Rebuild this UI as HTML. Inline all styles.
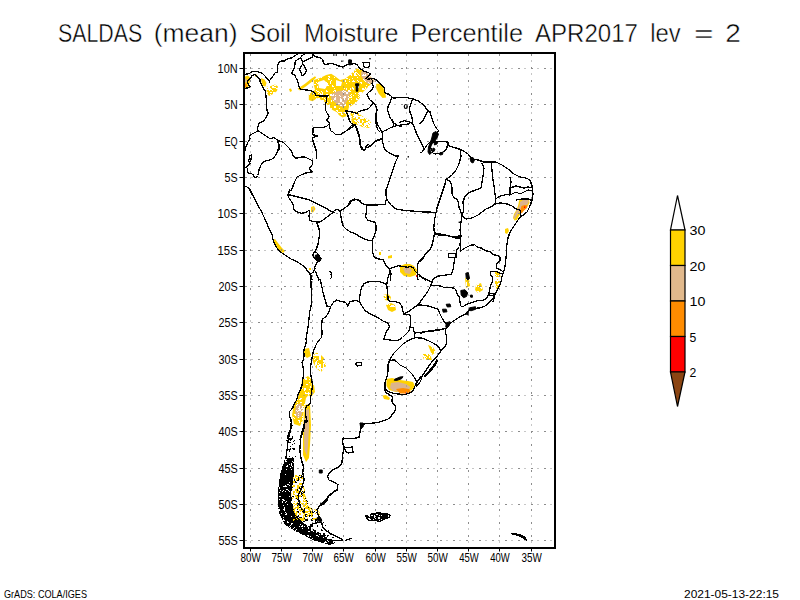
<!DOCTYPE html>
<html><head><meta charset="utf-8"><style>
html,body{margin:0;padding:0;background:#fff;width:800px;height:600px;overflow:hidden}
svg{display:block}
text{font-family:"Liberation Sans",sans-serif;fill:#000}
</style></head><body>
<svg width="800" height="600" viewBox="0 0 800 600">
<rect width="800" height="600" fill="#fff"/>
<text x="58.00" y="41.9" font-size="26" textLength="84.15" lengthAdjust="spacingAndGlyphs" stroke="#fff" stroke-width="0.45">SALDAS</text>
<text x="153.65" y="41.9" font-size="26" textLength="84.00" lengthAdjust="spacingAndGlyphs" stroke="#fff" stroke-width="0.45">(mean)</text>
<text x="249.60" y="41.9" font-size="26" textLength="41.50" lengthAdjust="spacingAndGlyphs" stroke="#fff" stroke-width="0.45">Soil</text>
<text x="304.00" y="41.9" font-size="26" textLength="94.60" lengthAdjust="spacingAndGlyphs" stroke="#fff" stroke-width="0.45">Moisture</text>
<text x="410.40" y="41.9" font-size="26" textLength="112.60" lengthAdjust="spacingAndGlyphs" stroke="#fff" stroke-width="0.45">Percentile</text>
<text x="535.00" y="41.9" font-size="26" textLength="103.00" lengthAdjust="spacingAndGlyphs" stroke="#fff" stroke-width="0.45">APR2017</text>
<text x="650.20" y="41.9" font-size="26" textLength="30.50" lengthAdjust="spacingAndGlyphs" stroke="#fff" stroke-width="0.45">lev</text>
<text x="693.90" y="41.9" font-size="26" textLength="19.60" lengthAdjust="spacingAndGlyphs" stroke="#fff" stroke-width="0.45">=</text>
<text x="725.30" y="41.9" font-size="26" textLength="15.60" lengthAdjust="spacingAndGlyphs" stroke="#fff" stroke-width="0.45">2</text>
<g>
<polygon points="313.8,80.0 320.0,78.1 326.2,75.0 331.2,73.8 335.0,76.2 340.0,80.0 345.0,78.8 350.0,75.0 353.8,71.2 356.2,68.8 361.2,68.8 366.2,72.5 370.0,76.2 373.8,80.0 371.2,83.8 367.5,87.5 362.5,92.5 360.0,97.5 356.2,102.5 352.5,105.0 348.8,107.5 347.5,113.8 342.5,115.0 337.5,112.5 332.5,110.0 327.5,105.0 323.8,101.2 318.8,98.8 315.0,97.5 310.0,98.8 308.8,95.0 311.2,92.5 315.0,90.0 313.8,85.0" fill="#ffd200"/>
<polygon points="331.2,93.8 337.5,91.2 345.0,90.0 350.0,92.5 348.8,97.5 346.2,102.5 343.8,107.5 340.0,106.2 335.0,102.5 331.2,98.8" fill="#dcb48c"/>
<polygon points="361.2,71.2 365.0,71.2 368.8,75.0 375.0,81.2 371.2,83.8 367.5,83.8 363.8,80.0 361.2,76.2" fill="#dcb48c"/>
<polygon points="376.2,83.8 380.0,83.8 383.1,87.5 385.0,92.5 386.2,97.5 382.5,98.1 378.8,93.8 376.2,88.8" fill="#ffd200"/>
<polygon points="297.5,88.8 305.0,83.8 311.2,78.8 315.0,76.2 316.2,77.5 312.5,81.2 306.2,86.2 300.0,90.6" fill="#ffd200"/>
<polygon points="336.2,110.0 342.5,107.5 346.9,111.2 346.2,116.2 342.5,117.5 338.8,115.0" fill="#ffd200"/>
<polygon points="351.2,118.8 357.5,118.8 365.0,120.0 366.2,123.8 361.2,125.0 355.0,124.4 351.9,122.5" fill="#ffd200"/>
<polygon points="308.8,93.8 315.0,95.0 316.2,98.8 312.5,101.2 308.8,100.0" fill="#ffd200"/>
<polygon points="318.0,82.0 324.0,80.0 328.0,84.0 325.0,89.0 319.0,88.0" fill="#ffffff"/>
<polygon points="336.0,80.0 342.0,82.0 341.0,86.0 336.0,86.0" fill="#ffffff"/>
<polygon points="519.0,200.5 522.0,198.5 526.0,198.0 529.0,199.0 529.5,203.0 527.0,207.0 524.0,210.0 521.0,213.0 519.0,216.0 517.0,220.0 514.5,220.5 513.0,218.0 514.0,214.0 517.0,209.0 518.5,204.0" fill="#ffd200"/>
<polygon points="520.0,202.0 523.0,200.0 527.0,199.0 529.0,201.0 528.0,204.0 525.0,206.0 522.0,209.0 520.0,211.0 518.0,214.0 516.0,217.0 514.5,219.5 513.5,217.0 515.5,213.0 517.5,209.0 519.5,205.0" fill="#dcb48c"/>
<polygon points="521.5,206.0 524.5,205.0 527.5,205.5 527.0,208.0 524.0,210.5 522.0,213.0 520.0,213.5 520.5,210.0" fill="#ff8c00"/>
<polygon points="524.0,206.5 525.5,206.5 525.0,208.0 524.0,208.0" fill="#ff0000"/>
<polygon points="505.0,229.0 508.0,228.0 509.0,231.0 507.0,234.0 505.0,233.0" fill="#ffd200"/>
<polygon points="302.0,380.0 308.0,376.0 312.0,380.0 311.0,392.0 306.0,398.0 304.0,408.0 303.0,420.0 300.0,426.0 294.0,424.0 292.0,415.0 294.0,404.0 298.0,396.0 301.0,388.0" fill="#ffd200"/>
<polygon points="296.0,405.0 301.0,403.0 303.0,410.0 301.0,417.0 297.0,418.0 295.0,412.0" fill="#dcb48c"/>
<polygon points="304.0,349.0 309.0,348.0 311.0,356.0 307.0,358.0 304.0,355.0" fill="#ffd200"/>
<polygon points="313.0,355.0 318.0,352.0 324.0,358.0 326.0,366.0 321.0,372.0 316.0,368.0 313.0,362.0" fill="#ffd200"/>
<polygon points="305.0,405.0 310.0,404.0 311.0,425.0 310.0,445.0 309.0,458.0 306.0,462.0 303.0,455.0 303.0,430.0 304.0,415.0" fill="#ffd200"/>
<polygon points="305.5,410.0 309.0,409.0 309.0,428.0 308.0,445.0 307.0,456.0 304.5,450.0 304.0,435.0 304.5,420.0" fill="#dcb48c"/>
<polygon points="308.0,386.0 314.0,385.0 315.0,392.0 311.0,397.0 308.0,395.0" fill="#ffd200"/>
<polygon points="292.0,509.0 300.0,506.0 306.0,508.0 312.0,509.0 318.0,510.0 320.0,515.0 316.0,520.0 308.0,519.0 300.0,522.0 293.0,521.0" fill="#ffd200"/>
<polygon points="305.0,511.0 311.0,511.0 314.0,515.0 309.0,517.0 305.0,515.0" fill="#dcb48c"/>
<polygon points="299.0,490.0 305.0,489.0 305.0,498.0 300.0,499.0" fill="#ffd200"/>
<polygon points="244.0,77.0 248.0,75.5 250.5,78.0 249.5,83.0 248.0,88.0 244.0,88.5" fill="#ffd200"/>
<polygon points="244.0,79.0 246.5,78.5 247.0,82.0 244.0,83.0" fill="#dcb48c"/>
<polygon points="244.0,84.0 246.5,83.5 247.0,86.5 244.0,87.5" fill="#ff8c00"/>
<polygon points="255.0,75.0 257.0,74.5 257.5,76.5 255.5,77.0" fill="#ffd200"/>
<polygon points="261.0,78.0 264.5,79.5 266.5,83.0 265.5,86.5 263.0,86.0 261.5,82.0" fill="#ffd200"/>
<polygon points="266.0,87.0 271.0,86.0 275.0,84.5 278.0,86.5 277.0,91.0 273.0,94.0 269.0,96.0 267.0,93.0" fill="#ffd200"/>
<polygon points="350.0,111.0 357.0,112.0 362.0,116.0 369.0,120.0 372.0,124.0 369.0,128.0 362.0,127.0 356.0,123.0 351.0,117.0" fill="#ffd200"/>
<polygon points="289.0,89.0 291.0,88.5 292.0,91.0 290.0,92.0" fill="#ffd200"/>
<polygon points="400.0,266.0 405.0,264.0 410.0,264.0 414.0,266.0 417.0,270.0 416.0,275.0 410.0,277.0 404.0,276.0 400.0,272.0" fill="#ffd200"/>
<polygon points="403.0,268.0 409.0,267.0 412.0,270.0 410.0,274.0 405.0,273.0" fill="#dcb48c"/>
<polygon points="416.0,275.0 418.0,275.0 418.0,277.0 416.0,277.0" fill="#ff0000"/>
<polygon points="383.0,295.0 388.0,294.0 391.0,297.0 390.0,301.0 385.0,300.0" fill="#ffd200"/>
<polygon points="386.0,305.0 391.0,303.0 395.0,305.0 396.0,310.0 392.0,312.0 388.0,310.0" fill="#ffd200"/>
<polygon points="465.0,278.0 469.0,279.0 470.0,286.0 466.0,288.0" fill="#ffd200"/>
<polygon points="476.0,285.0 481.0,283.0 483.0,290.0 478.0,293.0 475.0,290.0" fill="#ffd200"/>
<polygon points="495.0,272.0 499.0,271.0 501.0,278.0 500.0,287.0 497.0,290.0 495.0,285.0" fill="#ffd200"/>
<polygon points="428.0,345.0 433.0,347.0 436.0,352.0 432.0,355.0" fill="#ffd200"/>
<polygon points="422.0,354.0 430.0,354.0 432.0,360.0 424.0,360.0" fill="#ffd200"/>
<polygon points="386.5,379.0 392.0,378.0 400.0,380.0 408.0,381.0 413.0,382.0 415.0,386.0 412.0,390.0 404.0,392.0 396.0,392.0 389.0,390.0 386.5,386.0" fill="#ffd200"/>
<polygon points="391.0,383.0 398.0,382.0 406.0,384.0 410.5,387.0 408.0,391.0 400.0,392.0 393.0,391.0 390.0,388.0" fill="#dcb48c"/>
<polygon points="396.0,389.0 403.0,388.0 409.0,389.0 411.0,392.0 406.0,393.5 400.0,393.5" fill="#ff8c00"/>
<polygon points="405.5,392.5 407.5,392.5 407.5,394.0 405.5,394.0" fill="#ff0000"/>
<polygon points="311.0,207.0 314.0,206.0 315.5,209.0 313.0,212.5 311.0,212.0" fill="#ffd200"/>
<polygon points="312.5,207.5 314.0,207.5 314.0,210.0 312.5,210.5" fill="#dcb48c"/>
<polygon points="273.0,240.0 275.0,239.0 278.0,243.0 282.0,248.0 285.0,251.0 283.0,253.0 279.0,250.0 275.0,246.0" fill="#ffd200"/>
<polygon points="379.0,252.0 381.0,252.0 381.0,255.0 379.0,255.0" fill="#ffd200"/>
<polygon points="388.0,256.0 392.0,255.0 392.0,258.0 388.0,258.5" fill="#ffd200"/>
<polygon points="309.0,268.0 311.0,268.0 311.0,270.0 309.0,270.0" fill="#ffd200"/>
<polygon points="382.5,395.5 386.0,395.0 390.0,398.0 389.0,400.0 384.0,399.0" fill="#ffd200"/>
<polygon points="293.8,475.0 302.5,475.0 305.0,495.0 310.0,507.5 320.0,512.5 320.0,517.5 307.5,520.0 297.5,517.5 292.5,505.0 291.2,490.0" fill="#ffd200"/>
<path d="M359 69h1v1h-1zM355 70h1v1h-1zM353 71h1v1h-1zM353 72h1v1h-1zM355 72h2v1h-2zM354 73h2v1h-2zM357 73h1v1h-1zM350 74h2v1h-2zM354 74h2v1h-2zM358 74h1v1h-1zM363 74h1v1h-1zM365 74h1v1h-1zM351 75h1v1h-1zM354 75h3v1h-3zM359 75h1v1h-1zM362 75h4v1h-4zM328 76h2v1h-2zM368 76h2v1h-2zM321 77h1v1h-1zM329 77h1v1h-1zM334 77h1v1h-1zM357 77h1v1h-1zM367 77h1v1h-1zM328 78h1v1h-1zM346 78h2v1h-2zM352 78h1v1h-1zM318 79h1v1h-1zM328 79h2v1h-2zM349 79h1v1h-1zM363 79h1v1h-1zM367 79h1v1h-1zM331 80h1v1h-1zM345 80h1v1h-1zM353 80h1v1h-1zM357 80h1v1h-1zM364 80h1v1h-1zM372 80h1v1h-1zM330 81h1v1h-1zM345 81h1v1h-1zM349 81h1v1h-1zM352 81h3v1h-3zM358 81h1v1h-1zM365 81h1v1h-1zM316 82h1v1h-1zM318 82h2v1h-2zM322 82h2v1h-2zM326 82h1v1h-1zM330 82h1v1h-1zM360 82h2v1h-2zM368 82h1v1h-1zM317 83h3v1h-3zM326 83h2v1h-2zM330 83h1v1h-1zM346 83h1v1h-1zM356 83h1v1h-1zM361 83h1v1h-1zM369 83h1v1h-1zM314 84h2v1h-2zM327 84h1v1h-1zM326 85h3v1h-3zM332 85h1v1h-1zM366 85h1v1h-1zM317 86h1v1h-1zM324 86h2v1h-2zM332 86h2v1h-2zM357 86h2v1h-2zM368 86h1v1h-1zM317 87h1v1h-1zM325 87h1v1h-1zM352 87h1v1h-1zM358 87h1v1h-1zM365 87h1v1h-1zM334 88h1v1h-1zM344 88h1v1h-1zM346 88h1v1h-1zM350 88h1v1h-1zM352 88h2v1h-2zM356 88h2v1h-2zM362 88h2v1h-2zM365 88h1v1h-1zM346 89h1v1h-1zM350 89h1v1h-1zM353 89h1v1h-1zM357 89h1v1h-1zM362 89h3v1h-3zM316 90h1v1h-1zM326 90h1v1h-1zM334 90h2v1h-2zM343 90h1v1h-1zM348 90h2v1h-2zM317 91h2v1h-2zM321 91h1v1h-1zM326 91h2v1h-2zM333 91h1v1h-1zM335 91h1v1h-1zM342 91h1v1h-1zM344 91h2v1h-2zM348 91h3v1h-3zM319 92h1v1h-1zM322 92h1v1h-1zM343 92h1v1h-1zM346 92h2v1h-2zM359 92h3v1h-3zM313 93h1v1h-1zM318 93h1v1h-1zM320 93h1v1h-1zM322 93h1v1h-1zM346 93h2v1h-2zM355 93h1v1h-1zM358 93h4v1h-4zM309 94h1v1h-1zM320 94h3v1h-3zM326 94h2v1h-2zM330 94h2v1h-2zM333 94h1v1h-1zM351 94h1v1h-1zM359 94h3v1h-3zM322 95h2v1h-2zM326 95h2v1h-2zM330 95h4v1h-4zM335 95h1v1h-1zM339 95h1v1h-1zM350 95h1v1h-1zM353 95h1v1h-1zM358 95h1v1h-1zM360 95h1v1h-1zM315 96h1v1h-1zM323 96h1v1h-1zM328 96h1v1h-1zM340 96h1v1h-1zM344 96h2v1h-2zM348 96h1v1h-1zM351 96h1v1h-1zM359 96h2v1h-2zM322 97h1v1h-1zM328 97h1v1h-1zM335 97h1v1h-1zM343 97h3v1h-3zM349 97h3v1h-3zM358 97h1v1h-1zM318 98h2v1h-2zM324 98h1v1h-1zM334 98h2v1h-2zM340 98h1v1h-1zM344 98h1v1h-1zM348 98h1v1h-1zM356 98h1v1h-1zM325 99h1v1h-1zM334 99h2v1h-2zM340 99h2v1h-2zM344 99h1v1h-1zM348 99h1v1h-1zM351 99h1v1h-1zM356 99h2v1h-2zM322 100h2v1h-2zM326 100h1v1h-1zM331 100h1v1h-1zM333 100h1v1h-1zM340 100h2v1h-2zM326 101h1v1h-1zM331 101h1v1h-1zM340 101h2v1h-2zM349 101h1v1h-1zM327 102h1v1h-1zM342 102h2v1h-2zM355 102h1v1h-1zM338 103h2v1h-2zM343 103h1v1h-1zM329 104h1v1h-1zM336 104h1v1h-1zM345 104h1v1h-1zM351 104h1v1h-1zM328 105h2v1h-2zM340 105h2v1h-2zM344 105h2v1h-2zM349 105h1v1h-1zM329 106h1v1h-1zM334 106h2v1h-2zM349 106h1v1h-1zM334 107h2v1h-2zM331 108h1v1h-1zM339 108h1v1h-1zM336 110h2v1h-2zM337 111h1v1h-1zM338 112h4v1h-4zM343 112h3v1h-3zM341 113h1v1h-1zM345 113h1v1h-1zM341 114h2v1h-2zM352 111h2v1h-2zM350 112h6v1h-6zM352 113h1v1h-1zM354 113h1v1h-1zM356 113h1v1h-1zM354 114h3v1h-3zM359 114h1v1h-1zM353 115h5v1h-5zM351 116h1v1h-1zM354 116h8v1h-8zM353 117h2v1h-2zM356 117h2v1h-2zM360 117h5v1h-5zM356 118h2v1h-2zM360 118h4v1h-4zM365 118h1v1h-1zM358 119h2v1h-2zM366 119h2v1h-2zM354 120h2v1h-2zM357 120h3v1h-3zM362 120h1v1h-1zM366 120h2v1h-2zM355 121h2v1h-2zM358 121h2v1h-2zM362 121h2v1h-2zM368 121h2v1h-2zM357 122h1v1h-1zM359 122h1v1h-1zM362 122h1v1h-1zM366 122h4v1h-4zM357 123h5v1h-5zM364 123h4v1h-4zM369 123h3v1h-3zM358 124h4v1h-4zM364 124h5v1h-5zM370 124h2v1h-2zM362 125h1v1h-1zM364 125h2v1h-2zM368 125h3v1h-3zM363 126h2v1h-2zM366 126h1v1h-1zM368 126h2v1h-2zM365 127h1v1h-1zM274 85h2v1h-2zM268 86h2v1h-2zM272 86h2v1h-2zM266 87h4v1h-4zM272 87h4v1h-4zM266 88h1v1h-1zM268 88h3v1h-3zM276 88h2v1h-2zM266 89h6v1h-6zM269 90h1v1h-1zM272 90h1v1h-1zM267 92h1v1h-1zM270 92h2v1h-2zM273 92h2v1h-2zM273 93h1v1h-1zM270 94h1v1h-1zM304 378h3v1h-3zM305 379h2v1h-2zM309 379h1v1h-1zM309 382h1v1h-1zM306 384h2v1h-2zM310 386h1v1h-1zM310 387h1v1h-1zM302 388h1v1h-1zM304 388h2v1h-2zM304 389h2v1h-2zM309 389h1v1h-1zM304 390h1v1h-1zM305 392h1v1h-1zM308 392h1v1h-1zM305 393h5v1h-5zM308 394h1v1h-1zM297 397h1v1h-1zM297 398h1v1h-1zM300 398h2v1h-2zM297 399h1v1h-1zM299 399h2v1h-2zM297 402h1v1h-1zM300 402h2v1h-2zM297 404h1v1h-1zM304 404h1v1h-1zM296 405h1v1h-1zM299 406h1v1h-1zM302 406h2v1h-2zM293 407h1v1h-1zM299 407h1v1h-1zM302 407h1v1h-1zM298 408h2v1h-2zM301 408h3v1h-3zM299 409h2v1h-2zM303 409h1v1h-1zM296 410h1v1h-1zM298 410h3v1h-3zM302 410h2v1h-2zM297 411h1v1h-1zM301 411h3v1h-3zM298 413h1v1h-1zM294 414h2v1h-2zM295 415h1v1h-1zM298 415h1v1h-1zM302 416h1v1h-1zM293 417h1v1h-1zM298 417h1v1h-1zM294 418h1v1h-1zM302 418h1v1h-1zM302 419h1v1h-1zM298 420h2v1h-2zM299 421h1v1h-1zM299 422h1v1h-1zM301 422h1v1h-1zM317 352h2v1h-2zM318 353h2v1h-2zM315 354h6v1h-6zM313 355h8v1h-8zM319 356h2v1h-2zM313 357h1v1h-1zM319 357h2v1h-2zM315 358h1v1h-1zM319 358h2v1h-2zM314 359h1v1h-1zM319 359h2v1h-2zM317 360h1v1h-1zM323 360h2v1h-2zM316 361h1v1h-1zM323 361h2v1h-2zM315 362h2v1h-2zM324 362h1v1h-1zM315 363h2v1h-2zM318 363h1v1h-1zM323 363h2v1h-2zM315 364h2v1h-2zM319 364h2v1h-2zM323 364h1v1h-1zM325 364h1v1h-1zM315 365h1v1h-1zM317 365h4v1h-4zM323 365h1v1h-1zM317 366h2v1h-2zM320 366h1v1h-1zM323 366h1v1h-1zM317 367h4v1h-4zM323 367h2v1h-2zM317 368h7v1h-7zM319 369h2v1h-2zM322 369h1v1h-1zM320 370h1v1h-1zM320 371h1v1h-1zM387 304h1v1h-1zM389 304h1v1h-1zM391 305h3v1h-3zM390 306h5v1h-5zM383 295h3v1h-3zM385 296h1v1h-1zM387 296h1v1h-1zM387 297h2v1h-2zM384 298h2v1h-2zM389 298h1v1h-1zM389 299h1v1h-1zM388 300h1v1h-1zM466 279h1v1h-1zM466 282h1v1h-1zM469 282h1v1h-1zM466 283h1v1h-1zM466 284h1v1h-1zM466 285h1v1h-1zM477 284h2v1h-2zM476 285h1v1h-1zM476 286h1v1h-1zM478 286h1v1h-1zM480 287h2v1h-2zM481 288h1v1h-1zM477 291h2v1h-2zM478 292h1v1h-1zM497 271h2v1h-2zM498 272h1v1h-1zM495 274h1v1h-1zM496 275h1v1h-1zM498 275h1v1h-1zM495 276h1v1h-1zM495 277h6v1h-6zM495 278h6v1h-6zM495 279h2v1h-2zM498 279h3v1h-3zM495 280h6v1h-6zM497 281h1v1h-1zM498 283h2v1h-2zM495 284h1v1h-1zM497 284h3v1h-3zM495 285h1v1h-1zM496 286h1v1h-1zM499 287h1v1h-1zM431 346h1v1h-1zM432 347h1v1h-1zM432 348h1v1h-1zM434 351h2v1h-2zM434 352h1v1h-1zM431 353h1v1h-1zM422 354h1v1h-1zM426 354h2v1h-2zM429 354h1v1h-1zM422 355h2v1h-2zM427 355h1v1h-1zM430 355h1v1h-1zM423 356h3v1h-3zM429 356h1v1h-1zM424 357h1v1h-1zM426 357h1v1h-1zM429 357h1v1h-1zM424 358h2v1h-2zM424 359h2v1h-2zM427 359h1v1h-1zM294 475h1v1h-1zM297 475h3v1h-3zM301 475h2v1h-2zM293 476h2v1h-2zM299 476h4v1h-4zM294 477h1v1h-1zM296 477h2v1h-2zM295 478h1v1h-1zM298 478h1v1h-1zM300 478h1v1h-1zM293 479h1v1h-1zM295 479h1v1h-1zM300 479h3v1h-3zM293 480h1v1h-1zM295 480h1v1h-1zM297 480h3v1h-3zM301 480h2v1h-2zM295 481h8v1h-8zM292 482h1v1h-1zM295 482h8v1h-8zM292 483h7v1h-7zM303 483h1v1h-1zM292 484h7v1h-7zM303 484h1v1h-1zM292 485h1v1h-1zM295 485h2v1h-2zM299 485h5v1h-5zM295 486h2v1h-2zM301 486h3v1h-3zM292 487h5v1h-5zM300 487h3v1h-3zM291 488h6v1h-6zM301 488h2v1h-2zM291 489h1v1h-1zM293 489h2v1h-2zM297 489h3v1h-3zM301 489h3v1h-3zM291 490h4v1h-4zM297 490h1v1h-1zM299 490h1v1h-1zM302 490h2v1h-2zM291 491h2v1h-2zM295 491h1v1h-1zM301 491h2v1h-2zM291 492h2v1h-2zM295 492h1v1h-1zM301 492h4v1h-4zM292 493h1v1h-1zM294 493h4v1h-4zM299 493h2v1h-2zM302 493h1v1h-1zM304 493h1v1h-1zM292 494h1v1h-1zM295 494h3v1h-3zM299 494h2v1h-2zM292 495h3v1h-3zM297 495h2v1h-2zM301 495h2v1h-2zM292 496h3v1h-3zM298 496h1v1h-1zM301 496h2v1h-2zM292 497h1v1h-1zM294 497h2v1h-2zM298 497h5v1h-5zM304 497h1v1h-1zM293 498h2v1h-2zM299 498h4v1h-4zM292 499h12v1h-12zM305 499h2v1h-2zM292 500h11v1h-11zM304 500h1v1h-1zM292 501h2v1h-2zM295 501h4v1h-4zM301 501h2v1h-2zM307 501h1v1h-1zM292 502h5v1h-5zM298 502h1v1h-1zM301 502h5v1h-5zM307 502h1v1h-1zM292 503h1v1h-1zM295 503h1v1h-1zM299 503h2v1h-2zM304 503h1v1h-1zM307 503h1v1h-1zM292 504h3v1h-3zM299 504h3v1h-3zM303 504h2v1h-2zM307 504h2v1h-2zM293 505h1v1h-1zM295 505h2v1h-2zM299 505h4v1h-4zM306 505h1v1h-1zM308 505h1v1h-1zM294 506h3v1h-3zM299 506h4v1h-4zM305 506h1v1h-1zM309 506h1v1h-1zM294 507h1v1h-1zM299 507h2v1h-2zM302 507h3v1h-3zM296 508h1v1h-1zM299 508h3v1h-3zM303 508h2v1h-2zM311 508h1v1h-1zM295 509h4v1h-4zM305 509h3v1h-3zM310 509h1v1h-1zM313 509h1v1h-1zM295 510h4v1h-4zM303 510h6v1h-6zM311 510h1v1h-1zM313 510h2v1h-2zM295 511h1v1h-1zM299 511h1v1h-1zM301 511h1v1h-1zM303 511h2v1h-2zM310 511h1v1h-1zM313 511h4v1h-4zM295 512h1v1h-1zM299 512h3v1h-3zM304 512h1v1h-1zM308 512h3v1h-3zM313 512h4v1h-4zM318 512h1v1h-1zM297 513h2v1h-2zM301 513h2v1h-2zM305 513h3v1h-3zM313 513h2v1h-2zM316 513h2v1h-2zM319 513h1v1h-1zM297 514h2v1h-2zM301 514h3v1h-3zM305 514h2v1h-2zM308 514h1v1h-1zM310 514h1v1h-1zM313 514h5v1h-5zM297 515h6v1h-6zM305 515h2v1h-2zM309 515h2v1h-2zM313 515h5v1h-5zM319 515h1v1h-1zM297 516h6v1h-6zM304 516h3v1h-3zM308 516h3v1h-3zM313 516h7v1h-7zM298 517h1v1h-1zM302 517h1v1h-1zM305 517h12v1h-12zM305 518h2v1h-2zM308 518h5v1h-5zM305 519h1v1h-1zM307 519h3v1h-3z" fill="#fff"/>
<path d="M250.5 54V547 M281.5 54V547 M312.5 54V547 M343.5 54V547 M375.5 54V547 M406.5 54V547 M437.5 54V547 M468.5 54V547 M499.5 54V547 M531.5 54V547 M245 68.5H554 M245 104.5H554 M245 141.5H554 M245 177.5H554 M245 213.5H554 M245 250.5H554 M245 286.5H554 M245 322.5H554 M245 359.5H554 M245 395.5H554 M245 431.5H554 M245 468.5H554 M245 504.5H554 M245 540.5H554" stroke="#8c8c8c" stroke-width="1" stroke-dasharray="2 4.5 1 5.5" fill="none"/>
<path d="M245.0 74.5 L246.0 74.2 L247.5 74.0 L249.0 73.5 L250.5 72.8 L252.2 71.5 L254.0 71.2 L256.5 71.5 L259.0 72.2 L261.0 72.8 L263.0 74.0 L265.0 76.0 L266.5 78.0 L268.0 79.5 L269.0 80.5 L270.0 80.0 L271.0 78.8 L272.0 77.5 L273.0 76.0 L274.0 74.5 L275.0 73.0 L276.0 72.5 L277.5 72.2 L277.8 71.0 L277.5 69.5 L277.5 66.2 L278.1 63.8 L279.4 62.1 L281.2 61.0 L283.1 60.8 L284.0 61.5 L285.2 60.2 L287.5 59.0 L290.0 58.1 L291.9 58.0 L293.8 56.4 L295.7 55.2 L297.0 54.2 M245.0 88.5 L247.0 88.0 L248.5 87.5 L250.0 86.5 L249.0 85.2 L248.5 84.0 L247.5 82.5 L247.8 81.0 L249.0 79.5 L250.5 78.0 L251.5 76.2 L253.0 75.0 L255.0 74.8 L257.0 76.5 L258.5 78.0 L260.0 79.5 L260.0 82.0 L261.5 84.5 L262.5 87.0 L263.5 88.0 L264.0 89.5 L265.0 90.5 L265.5 93.0 L266.0 96.0 L266.2 98.0 L266.5 100.0 L266.5 105.0 L267.0 110.0 L268.0 113.0 L267.0 116.0 L265.0 119.0 L263.0 121.5 L260.0 122.5 L258.5 124.5 L258.0 127.0 L257.0 129.0 L258.0 131.0 L254.0 133.0 L251.0 134.5 L249.5 136.0 L250.0 139.0 L249.5 140.0 M268.0 79.5 L269.0 81.0 L270.0 83.0 M304.6 53.9 L302.7 55.2 L301.1 56.8 L300.5 57.7 L301.4 59.6 L302.4 61.5 L302.7 64.0 M303.6 61.5 L305.8 60.2 L308.4 59.0 L310.9 58.0 L312.2 57.1 L312.8 55.5 L312.2 54.2 M313.4 54.5 L314.4 56.4 L317.2 57.1 L319.8 57.6 L321.7 58.7 L323.0 60.2 L323.3 63.7 L325.5 64.4 L328.0 64.0 L330.6 63.3 L333.8 64.0 L337.5 65.6 L342.5 66.9 L345.0 65.6 L350.0 64.0 L355.0 63.8 M300.5 57.7 L298.2 59.0 L296.0 60.9 L295.1 62.8 L294.8 65.3 L294.1 68.5 L292.9 71.0 L291.6 73.5 L293.2 74.2 L294.8 75.4 L296.0 78.0 L297.3 79.9 L297.9 82.4 L298.6 85.0 L299.5 87.5 L300.6 89.4 L303.8 89.8 L307.5 90.0 L310.6 90.6 L313.1 91.9 L315.0 93.8 L316.2 95.6 L320.0 96.0 L323.8 96.0 L328.1 95.8 M355.0 63.8 L356.9 64.8 L358.8 66.9 L360.6 68.8 L363.8 71.0 L367.5 72.2 L370.0 73.5 L370.2 74.8 L368.1 76.2 L366.0 78.1 L367.5 79.4 L371.2 78.5 L374.4 78.8 L376.9 80.2 L380.0 83.1 L383.1 86.2 L384.8 88.8 L384.4 91.9 L385.6 93.8 L388.8 94.0 L391.9 96.9 L393.8 98.1 L400.0 97.5 L407.5 97.8 L412.5 98.8 L417.5 100.6 L421.2 103.1 L425.0 106.9 L428.1 110.6 L430.0 111.9 M391.9 97.5 L390.0 102.5 L388.1 106.2 L387.5 110.0 L388.8 113.8 L390.0 117.5 L392.5 121.2 L393.8 125.0 M412.5 98.8 L411.2 102.5 L410.0 106.2 L409.4 110.0 L410.6 113.8 L411.9 117.5 L412.5 121.2 L411.2 123.8 M428.1 110.6 L426.2 113.8 L424.4 117.5 L422.5 121.2 L420.0 123.8 M279.8 141.0 L283.5 142.5 L286.5 145.5 L289.5 148.5 L291.8 151.5 L293.2 156.0 L295.5 158.2 L300.0 157.5 L303.0 156.8 L306.0 157.5 L309.0 159.0 L312.0 160.5 L312.8 163.5 L311.2 166.5 L309.0 168.0 L310.5 170.2 L312.8 171.8 M312.8 171.8 L307.5 172.5 L303.0 174.0 L300.0 175.5 L297.0 177.0 L295.5 180.0 L294.0 183.0 L292.5 187.5 L291.0 190.5 M249.5 140.0 L248.0 142.0 L247.0 144.5 L245.5 147.0 L245.0 150.0 L244.7 153.0 L244.8 156.0 L244.7 159.0 L244.8 162.0 L244.7 165.0 L245.0 168.0 L246.0 167.5 L247.5 166.2 L249.5 164.5 L250.0 163.0 M247.5 169.0 L248.0 173.0 L251.0 173.5 L253.0 174.5 L254.5 177.0 L256.0 177.5 L257.5 175.5 L258.5 173.0 L259.0 170.0 L260.0 167.0 L261.5 164.0 L264.0 161.5 L267.0 160.5 L270.0 160.0 L273.0 158.5 L275.0 156.0 L277.0 153.0 L278.0 150.0 L278.5 147.5 L279.5 147.0 L279.0 145.0 L278.0 142.0 L277.5 140.0 M244.5 186.0 L247.0 187.0 L249.5 189.0 L251.5 192.0 L253.0 195.0 L255.0 200.0 M340.0 135.0 L343.0 132.8 L346.8 130.5 L350.5 128.2 L353.5 126.0 L355.0 124.5 M355.0 124.5 L356.5 127.5 L358.0 132.0 L359.5 136.5 L359.5 141.0 L360.2 145.5 L362.5 148.5 L364.0 150.8 L366.2 147.8 L370.0 146.2 L372.2 144.8 L373.8 143.2 L375.2 141.0 L379.0 139.5 L382.0 138.8 M376.0 120.0 L377.5 124.5 L379.8 128.2 L382.0 132.0 L382.8 136.5 L382.8 142.5 L383.5 146.2 L385.0 149.2 L387.2 151.5 L389.5 153.0 L392.5 154.5 L395.5 156.0 L398.5 156.0 M382.0 132.0 L386.5 129.8 L391.0 127.5 L395.5 126.0 L400.0 125.2 L404.5 124.5 L409.0 123.8 M392.5 120.0 L394.0 123.0 L397.0 125.2 L401.5 126.8 M400.0 122.2 L404.5 120.8 L410.5 122.2 L413.5 125.2 L415.0 129.0 L416.5 133.5 L418.0 136.5 L419.5 139.5 L421.8 144.0 L423.2 147.0 L424.0 150.0 L421.8 152.2 M398.5 156.0 L397.0 159.0 L395.5 162.0 L394.0 166.5 L392.5 171.0 L391.0 175.5 L389.5 180.0 L388.0 184.5 L386.5 189.0 L385.8 193.5 M420.0 211.2 L427.5 211.7 L435.0 212.8 M460.5 251.0 L465.0 248.0 L471.0 245.0 M435.0 233.0 L442.5 234.5 L448.5 236.0 L454.5 236.8 L459.0 236.0 L461.2 236.0 M327.0 95.5 L326.5 100.0 L325.5 105.0 L325.5 110.0 L327.0 113.0 L329.0 116.0 L328.0 119.0 L326.0 120.0 L329.0 122.0 L329.5 126.0 L330.0 129.0 L331.0 131.0 L333.0 132.0 L335.0 134.0 L337.0 135.0 L339.0 134.0 L341.0 135.0 L342.0 133.0 L344.0 132.0 L346.0 131.0 L349.0 128.5 L350.0 127.0 L352.0 125.0 L354.0 124.5 M354.0 124.5 L352.0 124.0 L350.0 122.0 L349.0 119.0 L348.0 116.0 L347.0 113.0 L345.5 110.5 L349.0 111.5 L352.0 112.0 L355.0 112.5 L357.0 114.0 L358.0 112.0 L360.0 111.0 L364.0 110.0 L368.0 109.0 L370.0 107.0 L372.0 104.5 L374.0 103.0 M354.0 124.5 L356.0 127.0 L357.0 130.0 L358.0 133.0 L359.0 136.0 L360.0 140.0 L360.5 144.0 L361.0 147.0 L362.0 150.0 M374.0 103.0 L370.0 100.0 L368.0 97.0 L367.0 94.0 L369.0 92.0 L372.0 90.0 L373.5 86.0 L372.0 84.0 L372.5 81.0 L371.5 79.0 M374.0 103.0 L376.0 106.0 L377.0 110.0 L376.0 114.0 L376.0 118.0 L376.0 123.0 L377.0 128.0 L378.0 130.0 L380.0 132.0 M313.0 128.0 L318.0 127.5 L322.0 127.5 L325.0 127.0 L327.0 126.0 L329.0 124.0 M313.0 128.0 L313.0 132.0 L312.5 134.0 L313.5 135.0 L317.0 135.5 L317.5 136.5 L314.0 137.0 L312.5 138.0 L313.0 141.0 L314.0 144.0 L315.0 147.0 L316.0 150.0 L316.5 153.0 L316.5 158.0 M365.0 150.0 L366.0 146.0 L368.0 144.5 L370.0 145.5 L372.0 144.5 L374.0 143.0 L376.0 141.0 L379.0 140.5 M257.5 130.0 L260.0 132.0 L263.0 134.0 L266.0 136.0 L269.0 138.0 L271.0 139.0 L273.0 137.5 L275.0 138.0 L277.0 140.0 L280.0 141.0 M277.0 140.0 L278.0 142.0 L278.5 144.0 L279.0 147.0 L279.5 149.0 M249.8 190.0 L252.0 194.5 L255.0 199.0 L257.2 203.5 L259.5 208.0 L261.8 212.5 L264.0 217.0 L266.2 221.5 L267.8 226.0 L270.0 230.5 L272.2 235.0 L273.0 239.5 L273.8 242.5 L276.0 246.2 L278.2 250.0 L282.0 253.0 L286.5 256.0 L291.0 259.0 L295.5 261.2 L300.0 263.5 L303.0 265.8 L306.0 268.8 L308.2 271.8 L310.5 274.0 L311.2 277.0 L312.0 280.0 M289.5 190.0 L288.8 193.0 L288.0 196.0 L289.5 199.0 L291.8 202.0 L293.2 205.0 L293.2 208.8 L295.5 211.0 L298.5 212.5 L301.5 213.2 L306.0 212.5 L309.0 210.2 L309.8 212.5 L309.0 216.2 L309.8 220.0 L312.0 221.5 L315.0 221.5 L318.0 222.2 L321.0 221.5 L324.0 219.2 L327.0 217.0 L330.0 214.8 L333.0 212.5 L334.5 210.2 L337.5 209.5 L340.5 211.0 M288.0 194.5 L300.0 197.5 L309.0 199.8 L318.0 204.2 L325.5 208.0 L331.5 211.8 L334.5 212.5 M340.5 211.0 L345.0 208.0 L348.0 205.0 L349.5 202.0 L351.0 200.5 L354.0 199.0 L357.0 199.8 L360.0 200.5 M316.5 221.5 L318.0 226.0 L319.5 230.5 L319.5 235.0 L318.8 239.5 L318.0 244.0 L316.5 248.5 L315.0 251.5 L313.5 253.8 M318.0 260.5 L316.5 263.5 L315.0 266.5 L314.2 269.5 L315.8 272.5 L317.2 275.5 L318.8 280.0 M310.5 274.3 L313.5 271.8 L315.0 268.8 M330.0 271.8 L331.8 272.5 L330.8 274.8 L331.8 276.2 L330.8 278.5 M340.0 211.0 L344.5 208.0 L349.0 205.0 L352.0 200.5 L355.0 199.8 L358.0 199.8 L361.0 202.8 L364.0 204.2 L367.0 205.0 L376.0 205.0 L385.0 204.2 L386.5 199.0 L385.8 193.0 L385.8 190.0 M340.0 211.0 L341.5 220.0 L343.0 226.0 L346.0 229.0 L350.5 232.0 L355.0 233.5 L359.5 236.5 L364.0 238.8 L368.5 240.2 L372.2 240.2 M367.0 205.0 L366.2 212.5 L365.5 217.0 L367.8 220.0 L371.5 221.5 L375.2 222.2 L376.0 226.0 L376.0 230.5 L374.5 235.0 L372.2 240.2 M372.2 240.2 L372.2 245.5 L372.2 251.5 L374.5 257.5 L379.0 259.0 L383.5 259.8 L385.0 263.5 L386.5 266.5 L389.5 268.8 L391.0 274.0 L390.2 280.0 M389.5 268.8 L394.0 267.2 L398.5 265.8 L403.0 266.5 L407.5 267.2 L410.5 266.5 L413.5 268.0 L415.0 271.0 L418.0 274.0 L422.5 277.8 L425.5 280.0 M386.5 199.0 L391.0 205.0 L395.5 208.8 L403.0 210.2 L412.0 211.0 L421.0 211.8 L430.0 212.5 L436.0 212.5 M436.0 212.5 L434.5 220.0 L433.8 227.5 L434.5 233.5 L433.0 241.0 L431.5 247.0 L428.5 251.5 L425.5 254.5 L422.5 257.5 L419.5 260.5 L418.0 263.5 L417.2 268.0 L417.2 274.0 L418.0 280.0 M434.5 233.5 L439.0 235.0 L445.0 235.0 L451.0 236.5 L455.5 238.0 L460.0 238.0 M506.2 250.0 L506.2 256.0 L505.5 262.0 L504.8 268.0 L503.2 272.5 L501.8 277.0 L501.0 281.5 L499.5 286.0 L497.2 290.5 L495.0 295.0 L492.0 299.5 L489.0 302.5 L486.0 305.5 L483.0 307.0 L480.0 307.8 L477.0 308.2 L474.0 308.8 L471.0 309.2 L468.0 311.5 M420.0 261.2 L423.0 258.2 L425.2 254.5 L427.5 251.5 M459.0 247.0 L456.8 250.0 L456.0 254.5 L454.5 259.0 L453.8 265.0 L453.0 269.5 L451.5 274.0 L447.0 274.8 L442.5 275.5 L438.0 276.2 L435.0 277.8 L432.8 280.0 L432.0 282.2 L430.5 286.0 L429.0 289.0 L427.5 292.0 L425.2 295.0 L423.0 298.0 L420.8 301.0 L420.0 302.5 L416.2 306.2 M420.0 276.2 L424.5 278.5 L429.0 280.8 L432.0 282.2 M432.0 285.2 L436.5 285.7 L441.0 286.0 L444.0 287.5 L450.0 287.5 L454.5 288.2 L456.0 290.5 L456.8 293.5 L459.0 296.5 L459.8 301.0 L460.5 305.5 L462.0 307.0 L465.0 305.5 L469.5 303.2 L474.0 301.8 L478.5 300.2 M488.2 293.5 L493.5 293.8 L494.2 298.0 L492.8 301.8 M420.0 304.8 L424.5 305.5 L429.0 306.2 L433.5 307.8 L438.0 309.2 L439.5 313.0 L441.0 316.0 L442.5 319.0 L444.0 321.2 L446.2 323.5 M420.0 334.0 L424.5 331.8 L429.0 331.0 L435.0 330.2 L439.5 329.5 L444.0 328.8 L446.2 328.0 M320.0 279.0 L321.5 285.0 L323.0 292.5 L325.2 300.0 L326.8 306.0 L330.5 306.8 L333.5 302.2 L336.5 300.0 L341.0 301.5 L345.5 302.2 L347.8 306.0 L350.0 301.5 L354.5 300.8 L357.5 300.8 L359.8 302.2 M330.5 306.8 L329.0 312.0 L326.0 316.5 L322.2 319.5 L321.5 327.0 L322.2 333.0 L321.5 337.5 L320.0 339.0 M359.8 302.2 L359.8 297.0 L360.5 291.0 L362.0 286.5 L364.2 283.5 L368.0 282.0 L374.0 281.2 L380.0 281.7 L384.5 283.5 L386.8 285.0 M386.8 285.0 L387.5 279.0 L389.0 274.5 L389.8 270.0 M359.8 302.2 L362.0 306.0 L365.0 310.5 L369.5 313.5 L374.0 315.8 L378.5 318.0 L383.0 321.0 L387.5 323.2 L389.8 326.2 L387.5 330.0 L385.2 334.5 L383.8 339.0 L389.0 339.8 L393.5 340.5 L398.0 340.5 L402.5 337.5 L405.5 334.5 L408.5 331.5 L410.0 327.8 L410.8 324.0 M386.8 285.0 L387.5 292.5 L388.2 300.0 L390.5 301.5 L395.0 301.5 L399.5 303.0 L401.8 306.0 L402.5 310.5 L404.0 314.2 L408.5 314.2 L410.0 315.0 L410.8 319.5 L410.8 324.0 M410.8 324.0 L410.0 327.0 L413.0 327.8 L414.5 333.0 L414.5 337.5 M404.0 314.2 L410.0 310.5 L416.0 306.0 L420.5 304.5 M414.5 333.0 L422.0 332.2 L428.0 331.5 L434.0 330.8 L440.0 330.0 M414.5 337.5 L422.0 338.2 L428.0 340.5 L434.0 343.5 L438.5 346.5 L440.0 349.5 M306.5 340.0 L305.8 344.5 L304.2 349.0 L303.5 352.0 L304.2 355.0 L303.5 359.5 L302.0 362.5 L302.8 365.5 L303.5 370.0 L303.5 374.5 L302.8 379.0 L302.0 385.0 L300.5 389.5 L298.2 394.0 L296.7 400.0 L295.3 402.0 L294.3 404.0 L293.3 406.0 L292.7 408.0 L291.0 410.0 L289.3 411.7 L289.3 414.7 L290.0 417.3 L290.7 420.0 L291.3 422.7 L292.0 425.3 L291.3 428.0 L290.0 430.7 L288.7 433.3 L288.0 436.0 L287.3 438.7 M319.2 340.0 L317.0 343.0 L314.8 347.5 L313.2 352.0 L312.5 355.0 L311.8 359.5 L311.0 364.0 L310.2 370.0 L311.0 376.0 L311.8 380.5 L312.5 385.0 L311.8 391.0 L311.0 395.5 L310.3 400.0 L310.7 402.7 L308.7 404.7 L306.7 406.0 L305.7 408.0 L305.7 412.0 L305.7 416.0 L306.7 419.3 L307.0 421.3 L305.3 422.7 L304.0 424.0 L303.7 426.7 L302.7 429.3 L302.0 432.0 L301.3 434.7 L300.7 437.3 L300.0 440.0 M414.2 338.0 L407.5 341.0 L403.0 344.0 L398.5 348.5 L394.0 353.0 L391.0 357.5 L389.5 360.5 M389.5 360.5 L388.0 365.0 L388.0 371.0 L387.2 375.5 L385.8 380.0 L385.0 383.0 L385.0 387.5 L386.5 390.5 L389.5 392.0 L394.0 393.5 L400.0 394.2 L406.0 394.2 L410.5 392.8 L413.5 389.8 L415.0 386.0 M389.5 360.5 L394.0 359.8 L397.0 362.0 L400.0 365.0 L403.0 366.5 L406.0 368.0 L409.0 371.0 L412.0 374.0 L415.0 378.5 L416.5 381.5 L418.0 380.0 L421.0 377.0 M362.0 425.2 L360.5 429.0 L359.8 433.5 L359.0 437.2 L353.0 438.8 L347.0 438.8 L343.2 438.0 L342.5 442.5 L344.0 447.0 L344.8 449.2 L345.5 451.5 L348.5 453.0 L353.0 452.2 L352.2 447.0 L344.0 447.8 L343.2 451.5 L342.5 457.5 L341.8 463.5 L338.0 467.2 L333.5 469.5 L329.8 472.5 L327.5 476.2 L329.0 480.0 L333.5 482.2 L338.0 484.5 L337.2 489.0 L333.5 492.0 L329.0 495.0 L326.0 499.5 L321.5 504.0 L318.5 507.0 L317.0 510.0 M291.5 420.0 L290.8 426.0 L290.0 432.0 L288.5 438.0 L287.8 444.0 L287.0 450.0 L286.2 456.0 M305.0 420.0 L304.7 426.0 L302.8 432.0 L300.8 438.0 L300.2 444.0 L299.8 450.0 L300.5 456.0 L302.0 462.0 L303.5 466.5 L302.8 472.5 L303.5 477.0 L304.2 480.0 L302.8 484.5 L300.5 490.5 L298.2 495.0 L299.0 501.0 L300.5 507.0 L302.0 510.0 M338.0 490.0 L333.5 492.2 L329.0 496.0 L326.8 500.5 L324.5 503.5 L321.5 505.0 L319.2 506.5 L317.8 509.5 L317.0 512.5 L318.5 515.5 L320.0 518.5 L321.5 520.0 M345.5 540.2 L348.5 539.2 L351.5 538.3 M310.0 274.3 L310.7 278.3 L311.1 285.0 L311.3 291.7 L311.6 298.3 L311.3 305.0 L310.0 310.3 L309.3 315.7 L308.7 321.0 L308.0 327.7 L306.7 334.3 L306.0 339.7 L306.5 340.0 M385.0 388.5 L384.8 389.6 L385.6 392.2 L388.2 394.0 L390.9 395.8 L392.6 397.5 L391.8 401.0 L392.6 403.6 L395.2 405.4 L395.7 408.9 L394.4 412.4 L391.8 415.0 L390.0 417.6 L387.4 419.4 L383.9 420.7 L379.5 422.0 L375.1 422.9 L370.8 423.3 L365.5 423.8 L362.0 424.2 L360.2 424.6 L361.1 427.2 L362.0 429.0 M468.0 311.5 L466.7 313.3 L460.0 316.7 L455.0 320.0 L450.0 323.3 L447.5 325.8 L445.8 329.2 L445.8 333.3 L446.7 338.3 L446.7 343.3 L445.0 346.7 L441.7 350.0 L439.2 353.3 L436.7 356.7 L433.3 360.0 L430.8 363.3 L428.3 366.7 L425.0 371.7 L421.7 376.7 L418.3 380.0 L415.8 385.0 M430.0 111.9 L430.5 114.0 L431.5 117.0 L432.5 120.0 L434.0 124.0 L435.0 126.0 L437.0 129.0 L438.5 130.5 L437.5 133.0 L436.0 135.0 L434.5 137.0 L433.0 139.0 L431.0 141.0 L429.0 143.0 L427.0 145.0 L425.0 148.0 L423.5 150.0 L422.0 152.0 L420.0 153.0 M511.9 533.5 L516.2 533.8 L520.0 535.0 L523.1 536.2 L525.6 538.1 L526.2 540.0 M513.0 534.5 L517.0 535.0 L520.5 536.3 L523.5 537.8 L525.0 539.5 M447.8 142.0 L449.0 146.0 L456.0 148.0 L462.0 150.0 L468.0 154.0 L472.0 159.0 L478.0 160.0 L484.0 162.0 L490.0 162.0 L496.0 162.0 L502.0 165.0 L508.0 169.0 L514.0 174.0 L520.0 177.0 L526.0 178.0 L530.0 180.0 L532.0 186.0 L533.0 194.0 L532.0 200.0 L530.0 206.0 L527.0 212.0 L522.0 216.0 L518.0 220.0 L514.0 226.0 L510.0 232.0 L508.0 238.0 L507.0 244.0 L506.2 250.0 M460.0 149.0 L461.0 156.0 L459.0 164.0 L456.0 170.0 L452.0 175.0 L448.0 178.0 L446.0 179.6 L445.0 184.0 L443.0 190.0 L441.0 196.0 L439.0 202.0 L437.0 208.0 L436.0 212.5 M446.0 179.6 L449.0 180.4 L451.0 183.0 L452.0 188.0 L452.0 194.0 L454.0 198.0 L457.0 199.0 L458.4 202.0 L459.0 207.0 L461.0 212.0 L462.0 216.0 L461.0 222.0 L460.0 230.0 L461.0 236.0 L460.0 244.0 L460.5 251.0 M482.0 163.0 L484.0 168.0 L483.0 176.0 L482.0 182.0 L481.0 188.0 L476.0 190.0 L470.0 192.0 L465.0 196.0 L463.0 202.0 L463.6 210.0 L462.0 216.0 M462.0 216.0 L466.0 219.0 L472.0 218.0 L478.0 215.0 L482.0 212.0 L486.0 209.0 L491.0 207.0 L495.0 204.0 L495.6 199.0 M491.0 162.0 L492.0 170.0 L492.6 178.0 L494.0 186.0 L495.0 194.0 L495.6 199.0 M495.6 199.0 L500.0 196.0 L506.0 194.6 L510.0 195.0 M510.0 177.0 L511.0 182.0 L510.0 188.0 L510.0 195.0 M510.0 188.0 L516.0 186.0 L520.0 187.0 L524.0 188.0 L528.0 187.0 L532.4 188.0 M510.0 195.0 L516.0 192.0 L520.0 194.0 L524.0 192.0 L528.0 190.0 L532.4 191.0 M495.6 204.0 L500.0 203.0 L506.0 203.6 L512.0 206.0 L516.0 209.0 L520.0 210.0 M516.0 200.0 L522.0 199.0 L528.0 199.0 L531.0 200.0 M520.0 210.0 L521.0 216.0 L518.0 220.0 M470.0 245.3 L474.7 244.7 L477.0 247.0 L481.7 248.2 L485.2 250.5 L489.8 251.7 L493.3 254.6 L498.0 255.8 L500.3 257.5 L499.8 261.0 L497.4 262.8 L496.2 264.5 L496.8 268.0 L500.3 269.8 L502.7 271.5 M491.0 271.5 L496.8 271.5 L501.5 273.8 M491.0 271.5 L490.4 275.0 L492.2 276.2 L492.8 280.8 L491.0 284.3 L489.8 289.0 L488.7 293.7 L489.2 294.8 L493.3 296.0 L495.1 293.7 M478.5 300.2 L481.7 300.7 L485.2 299.5 L487.5 297.2 L488.7 293.7 M302.7 64.0 L300.1 67.8 L299.5 69.7 L300.5 71.6 L301.4 73.5 L301.7 75.4 L303.3 75.4 L305.2 73.5 L306.2 71.0 L306.5 70.4 L305.2 67.8 L303.9 65.3Z M363.1 62.5 L369.4 62.2 L369.8 66.2 L367.5 67.5 L364.4 67.5 L363.5 65.0Z M250.0 155.5 L251.5 155.0 L251.0 160.0 L249.5 162.5 L248.5 161.0 L249.5 158.0Z M313.5 253.0 L316.5 252.2 L318.0 254.5 L321.0 258.2 L319.5 261.2 L316.5 260.5 L314.2 257.5 L312.8 255.2Z M448.5 253.8 L456.0 253.8 L456.0 257.5 L448.5 257.5Z M356.0 363.0 L361.0 362.5 L362.0 365.0 L357.5 366.0 L356.0 365.0Z M436.8 359.8 L434.5 364.2 L431.5 368.0 L428.5 371.8 L424.8 375.8 L424.0 377.0 L426.2 375.8 L430.0 371.8 L433.3 367.7 L436.0 363.8 L437.5 360.8Z M421.0 376.2 L418.8 380.0 L415.8 383.8 L416.5 386.0 L419.5 383.0 L421.8 378.5Z M321.5 522.2 L323.0 527.5 L326.0 530.5 L330.5 533.5 L336.5 536.5 L341.8 538.8 L342.5 540.2 L338.0 540.7 L332.0 540.2 L326.0 539.5 L320.0 538.0 L314.0 535.0 L311.0 532.0 L309.5 527.5 L311.0 524.5 L315.5 523.0Z M434.0 142.0 L440.0 141.5 L447.0 141.5 L447.5 145.0 L446.5 149.0 L445.0 150.5 L443.0 152.0 L441.0 153.0 L438.0 153.5 L435.0 154.0 L433.0 153.0 L432.0 151.0 L431.0 149.0 L430.5 146.0 L431.5 143.0Z M366.0 515.9 L367.5 515.9 L368.6 517.0 L370.1 517.4 L371.2 514.0 L373.1 513.1 L374.2 514.0 L376.1 513.1 L378.7 513.1 L381.0 513.1 L382.9 514.0 L388.9 514.2 L390.0 515.1 L388.9 517.4 L386.2 518.5 L384.0 519.2 L381.0 520.7 L378.7 521.5 L376.5 520.4 L373.1 520.7 L369.4 520.7 L367.9 519.2 L366.4 517.7Z" stroke="#000" stroke-width="1.3" fill="none" stroke-linejoin="round" stroke-linecap="round" shape-rendering="crispEdges"/>
<polygon points="355.6,83.8 358.8,83.8 358.8,85.6 357.8,86.2 357.8,91.2 356.2,91.2 356.2,86.2 355.6,85.6" fill="#000" stroke="#000" stroke-width="1"/>
<polygon points="348.8,59.8 351.5,60.0 351.5,62.5 350.6,65.0 349.0,64.8 348.5,61.9" fill="#000" stroke="#000" stroke-width="1"/>
<polygon points="470.0,158.0 473.0,157.5 474.5,160.0 473.0,163.0 471.0,162.0" fill="#000" stroke="#000" stroke-width="1"/>
<polygon points="469.5,307.8 475.5,306.7 475.8,309.2 471.0,310.8 468.8,310.0" fill="#000" stroke="#000" stroke-width="1"/>
<polygon points="466.5,312.2 468.3,311.8 468.0,314.8 466.5,314.5" fill="#000" stroke="#000" stroke-width="1"/>
<polygon points="446.2,322.8 450.0,321.7 449.2,325.8 447.0,328.0 445.8,327.2" fill="#000" stroke="#000" stroke-width="1"/>
<polygon points="465.8,273.2 468.3,272.5 469.5,278.5 467.7,280.0 466.2,277.8" fill="#000" stroke="#000" stroke-width="1"/>
<polygon points="460.8,290.5 465.0,289.8 467.7,292.8 466.5,296.5 463.5,297.7 461.2,295.0" fill="#000" stroke="#000" stroke-width="1"/>
<polygon points="470.2,295.3 472.2,295.0 472.5,297.2 470.7,297.2" fill="#000" stroke="#000" stroke-width="1"/>
<polygon points="446.2,304.3 450.0,304.0 450.8,306.7 447.3,307.0" fill="#000" stroke="#000" stroke-width="1"/>
<polygon points="442.5,309.2 446.2,309.2 447.0,311.8 443.2,312.2" fill="#000" stroke="#000" stroke-width="1"/>
<polygon points="360.0,423.0 363.0,423.0 362.5,427.5 360.5,426.5" fill="#000" stroke="#000" stroke-width="1"/>
<polygon points="394.8,379.2 400.0,377.0 403.0,376.7 401.5,378.8 397.0,380.3 394.3,380.3" fill="#000" stroke="#000" stroke-width="1"/>
<polygon points="360.2,423.3 363.5,423.8 363.2,426.8 361.2,427.2" fill="#000" stroke="#000" stroke-width="1"/>
<polygon points="317.0,517.8 320.0,517.0 321.8,520.0 321.2,521.8 317.8,520.8" fill="#000" stroke="#000" stroke-width="1"/>
<polygon points="433.0,133.0 436.0,131.5 438.5,134.0 437.0,138.0 435.0,141.0 432.5,143.0 431.0,146.0 430.0,150.0 431.5,153.0 429.5,154.5 428.0,152.0 428.5,147.0 430.0,143.0 431.5,139.0" fill="#000" stroke="#000" stroke-width="1"/>
<polygon points="434.0,142.0 438.0,141.5 437.0,144.0 434.5,145.0" fill="#000" stroke="#000" stroke-width="1"/>
<polygon points="439.0,153.5 443.0,152.0 442.5,154.5 440.0,155.0" fill="#000" stroke="#000" stroke-width="1"/>
<polygon points="433.0,148.0 435.0,149.0 434.0,151.5 432.5,151.0" fill="#000" stroke="#000" stroke-width="1"/>
<polygon points="319.3,470.0 322.2,470.0 322.2,473.0 319.3,473.0" fill="#000" stroke="#000" stroke-width="1"/>
<polygon points="315.5,255.0 318.0,255.0 321.5,258.5 319.5,261.0 316.5,260.0 315.0,257.5" fill="#000" stroke="#000" stroke-width="1"/>
<rect x="369.3" y="58.0" width="1.4" height="1.4" fill="#000"/>
<rect x="333.1" y="54.3" width="1.4" height="1.4" fill="#000"/>
<rect x="335.6" y="54.3" width="1.4" height="1.4" fill="#000"/>
<rect x="345.6" y="54.3" width="1.4" height="1.4" fill="#000"/>
<rect x="341.2" y="60.5" width="1.4" height="1.4" fill="#000"/>
<rect x="339.3" y="159.1" width="1.4" height="1.4" fill="#000"/>
<rect x="407.6" y="156.1" width="1.4" height="1.4" fill="#000"/>
<rect x="458.6" y="221.6" width="1.4" height="1.4" fill="#000"/>
<rect x="320.1" y="502.6" width="1.4" height="1.4" fill="#000"/>
<ellipse cx="405.8" cy="106.5" rx="1.5" ry="2.0" fill="none" stroke="#000" stroke-width="1.2"/>
<path d="M372 513h2v1h-2zM375 513h1v1h-1zM378 513h4v1h-4zM371 514h5v1h-5zM378 514h5v1h-5zM386 514h3v1h-3zM373 515h1v1h-1zM375 515h4v1h-4zM380 515h1v1h-1zM382 515h6v1h-6zM366 516h2v1h-2zM371 516h3v1h-3zM376 516h12v1h-12zM366 517h2v1h-2zM369 517h5v1h-5zM375 517h3v1h-3zM380 517h9v1h-9zM367 518h1v1h-1zM370 518h5v1h-5zM376 518h2v1h-2zM380 518h6v1h-6zM371 519h2v1h-2zM374 519h7v1h-7zM382 519h1v1h-1zM370 520h3v1h-3zM374 520h1v1h-1zM377 520h2v1h-2zM380 520h1v1h-1zM285 458h9v1h-9zM287 459h7v1h-7zM284 460h1v1h-1zM286 460h8v1h-8zM284 461h1v1h-1zM287 461h5v1h-5zM293 461h1v1h-1zM284 462h9v1h-9zM284 463h7v1h-7zM292 463h2v1h-2zM283 464h6v1h-6zM290 464h1v1h-1zM292 464h2v1h-2zM283 465h4v1h-4zM288 465h3v1h-3zM292 465h2v1h-2zM282 466h4v1h-4zM288 466h4v1h-4zM293 466h1v1h-1zM282 467h8v1h-8zM291 467h3v1h-3zM282 468h12v1h-12zM282 469h4v1h-4zM287 469h4v1h-4zM292 469h2v1h-2zM281 470h13v1h-13zM281 471h13v1h-13zM281 472h13v1h-13zM280 473h14v1h-14zM280 474h5v1h-5zM286 474h8v1h-8zM280 475h14v1h-14zM280 476h14v1h-14zM280 477h13v1h-13zM280 478h13v1h-13zM279 479h14v1h-14zM279 480h14v1h-14zM279 481h14v1h-14zM279 482h10v1h-10zM290 482h3v1h-3zM279 483h14v1h-14zM279 484h8v1h-8zM289 484h4v1h-4zM279 485h6v1h-6zM286 485h3v1h-3zM290 485h2v1h-2zM279 486h4v1h-4zM287 486h5v1h-5zM278 487h1v1h-1zM280 487h12v1h-12zM278 488h1v1h-1zM280 488h12v1h-12zM278 489h8v1h-8zM288 489h4v1h-4zM278 490h2v1h-2zM281 490h2v1h-2zM284 490h4v1h-4zM289 490h3v1h-3zM278 491h4v1h-4zM283 491h2v1h-2zM286 491h3v1h-3zM290 491h1v1h-1zM278 492h1v1h-1zM280 492h11v1h-11zM278 493h13v1h-13zM278 494h13v1h-13zM278 495h13v1h-13zM278 496h1v1h-1zM281 496h8v1h-8zM290 496h1v1h-1zM278 497h14v1h-14zM278 498h14v1h-14zM278 499h1v1h-1zM280 499h2v1h-2zM284 499h8v1h-8zM278 500h5v1h-5zM285 500h7v1h-7zM278 501h4v1h-4zM283 501h3v1h-3zM287 501h4v1h-4zM278 502h4v1h-4zM283 502h2v1h-2zM286 502h5v1h-5zM278 503h14v1h-14zM278 504h9v1h-9zM288 504h5v1h-5zM278 505h5v1h-5zM284 505h9v1h-9zM278 506h15v1h-15zM279 507h5v1h-5zM285 507h8v1h-8zM278 508h6v1h-6zM285 508h8v1h-8zM280 509h3v1h-3zM285 509h8v1h-8zM280 510h4v1h-4zM285 510h8v1h-8zM279 511h15v1h-15zM279 512h6v1h-6zM286 512h8v1h-8zM279 513h2v1h-2zM282 513h4v1h-4zM287 513h8v1h-8zM280 514h5v1h-5zM287 514h8v1h-8zM280 515h16v1h-16zM281 516h10v1h-10zM292 516h3v1h-3zM296 516h1v1h-1zM281 517h2v1h-2zM284 517h14v1h-14zM282 518h14v1h-14zM297 518h2v1h-2zM282 519h1v1h-1zM284 519h9v1h-9zM295 519h2v1h-2zM298 519h2v1h-2zM285 520h8v1h-8zM294 520h7v1h-7zM283 521h4v1h-4zM288 521h14v1h-14zM284 522h3v1h-3zM289 522h13v1h-13zM284 523h7v1h-7zM293 523h11v1h-11zM285 524h6v1h-6zM292 524h8v1h-8zM301 524h5v1h-5zM286 525h4v1h-4zM291 525h11v1h-11zM303 525h4v1h-4zM288 526h1v1h-1zM290 526h9v1h-9zM300 526h1v1h-1zM303 526h1v1h-1zM305 526h2v1h-2zM308 526h1v1h-1zM289 527h1v1h-1zM291 527h3v1h-3zM295 527h13v1h-13zM309 527h2v1h-2zM291 528h2v1h-2zM294 528h8v1h-8zM303 528h5v1h-5zM309 528h2v1h-2zM293 529h3v1h-3zM297 529h14v1h-14zM313 529h1v1h-1zM294 530h1v1h-1zM296 530h15v1h-15zM313 530h3v1h-3zM296 531h12v1h-12zM311 531h2v1h-2zM314 531h2v1h-2zM299 532h12v1h-12zM312 532h4v1h-4zM317 532h2v1h-2zM300 533h20v1h-20zM302 534h17v1h-17zM320 534h1v1h-1zM305 535h2v1h-2zM309 535h5v1h-5zM315 535h1v1h-1zM318 535h5v1h-5zM306 536h2v1h-2zM309 536h1v1h-1zM311 536h5v1h-5zM319 536h6v1h-6zM308 537h15v1h-15zM324 537h2v1h-2zM310 538h2v1h-2zM313 538h10v1h-10zM324 538h3v1h-3zM312 539h15v1h-15zM314 540h13v1h-13zM328 540h3v1h-3zM318 541h7v1h-7zM326 541h2v1h-2zM329 541h4v1h-4zM321 542h3v1h-3zM327 542h6v1h-6zM334 542h1v1h-1zM325 543h9v1h-9zM328 544h3v1h-3zM299 475h1v1h-1zM301 475h1v1h-1zM301 476h2v1h-2zM298 477h1v1h-1zM300 477h2v1h-2zM298 478h1v1h-1zM294 479h1v1h-1zM298 479h1v1h-1zM294 480h1v1h-1zM297 480h2v1h-2zM295 481h1v1h-1zM295 482h2v1h-2zM292 483h1v1h-1zM292 484h1v1h-1zM302 485h1v1h-1zM301 486h1v1h-1zM303 486h1v1h-1zM292 487h1v1h-1zM299 487h1v1h-1zM302 487h1v1h-1zM299 488h2v1h-2zM297 489h1v1h-1zM297 490h1v1h-1zM299 491h1v1h-1zM302 491h1v1h-1zM304 491h1v1h-1zM299 492h1v1h-1zM301 492h1v1h-1zM303 492h2v1h-2zM301 493h2v1h-2zM298 494h1v1h-1zM301 494h1v1h-1zM297 495h1v1h-1zM302 495h1v1h-1zM292 496h2v1h-2zM301 496h1v1h-1zM296 498h1v1h-1zM305 498h1v1h-1zM297 499h1v1h-1zM306 500h1v1h-1zM307 501h1v1h-1zM297 503h2v1h-2zM307 503h1v1h-1zM298 504h1v1h-1zM297 505h1v1h-1zM299 507h2v1h-2zM308 507h1v1h-1zM304 508h1v1h-1zM311 508h1v1h-1zM293 509h1v1h-1zM297 509h1v1h-1zM301 509h2v1h-2zM304 509h1v1h-1zM303 510h2v1h-2zM297 511h2v1h-2zM302 511h3v1h-3zM310 511h1v1h-1zM312 511h1v1h-1zM314 511h1v1h-1zM298 512h1v1h-1zM303 512h2v1h-2zM310 512h1v1h-1zM312 512h2v1h-2zM305 514h2v1h-2zM298 515h1v1h-1zM305 515h1v1h-1zM309 515h2v1h-2zM312 515h1v1h-1zM297 516h2v1h-2zM305 516h2v1h-2zM309 516h1v1h-1zM318 516h1v1h-1zM299 517h3v1h-3zM304 518h1v1h-1zM312 518h1v1h-1zM320 518h1v1h-1zM305 519h3v1h-3zM311 519h1v1h-1zM315 519h2v1h-2zM305 520h3v1h-3zM311 520h2v1h-2zM315 520h2v1h-2zM303 521h2v1h-2zM315 521h1v1h-1zM317 521h1v1h-1zM302 522h1v1h-1zM318 522h1v1h-1zM323 522h1v1h-1zM311 525h2v1h-2zM317 525h1v1h-1zM325 525h1v1h-1zM311 526h2v1h-2zM317 526h1v1h-1zM322 526h1v1h-1zM323 528h1v1h-1zM321 529h1v1h-1zM321 530h2v1h-2zM328 530h1v1h-1zM320 533h1v1h-1zM323 533h2v1h-2zM329 533h1v1h-1zM323 534h2v1h-2zM330 534h1v1h-1zM323 535h3v1h-3zM327 535h2v1h-2zM327 536h1v1h-1zM326 537h1v1h-1zM332 537h2v1h-2zM329 539h1v1h-1zM292 436h1v1h-1zM287 437h2v1h-2zM292 437h1v1h-1zM289 438h4v1h-4zM289 439h3v1h-3zM286 440h2v1h-2zM290 440h1v1h-1zM294 440h1v1h-1zM287 441h2v1h-2zM293 441h1v1h-1zM289 442h2v1h-2zM294 443h1v1h-1zM292 444h1v1h-1zM287 446h1v1h-1zM290 446h1v1h-1zM287 447h1v1h-1zM287 448h1v1h-1zM290 448h1v1h-1zM292 448h3v1h-3zM288 449h3v1h-3zM293 449h2v1h-2zM286 450h1v1h-1zM289 450h1v1h-1zM289 451h1v1h-1zM285 456h2v1h-2zM289 456h1v1h-1zM295 456h1v1h-1zM285 457h2v1h-2zM292 457h1v1h-1z" fill="#000"/>
</g>
<rect x="244" y="53" width="311" height="495" fill="none" stroke="#000" stroke-width="2"/>
<g font-size="12.2">
<path d="M239.5 68.5H243" stroke="#000" stroke-width="1"/>
<path d="M239.5 104.5H243" stroke="#000" stroke-width="1"/>
<path d="M239.5 141.5H243" stroke="#000" stroke-width="1"/>
<path d="M239.5 177.5H243" stroke="#000" stroke-width="1"/>
<path d="M239.5 213.5H243" stroke="#000" stroke-width="1"/>
<path d="M239.5 250.5H243" stroke="#000" stroke-width="1"/>
<path d="M239.5 286.5H243" stroke="#000" stroke-width="1"/>
<path d="M239.5 322.5H243" stroke="#000" stroke-width="1"/>
<path d="M239.5 359.5H243" stroke="#000" stroke-width="1"/>
<path d="M239.5 395.5H243" stroke="#000" stroke-width="1"/>
<path d="M239.5 431.5H243" stroke="#000" stroke-width="1"/>
<path d="M239.5 468.5H243" stroke="#000" stroke-width="1"/>
<path d="M239.5 504.5H243" stroke="#000" stroke-width="1"/>
<path d="M239.5 540.5H243" stroke="#000" stroke-width="1"/>
<path d="M250.5 549V551.5" stroke="#000" stroke-width="1"/>
<path d="M281.5 549V551.5" stroke="#000" stroke-width="1"/>
<path d="M312.5 549V551.5" stroke="#000" stroke-width="1"/>
<path d="M343.5 549V551.5" stroke="#000" stroke-width="1"/>
<path d="M375.5 549V551.5" stroke="#000" stroke-width="1"/>
<path d="M406.5 549V551.5" stroke="#000" stroke-width="1"/>
<path d="M437.5 549V551.5" stroke="#000" stroke-width="1"/>
<path d="M468.5 549V551.5" stroke="#000" stroke-width="1"/>
<path d="M499.5 549V551.5" stroke="#000" stroke-width="1"/>
<path d="M531.5 549V551.5" stroke="#000" stroke-width="1"/>
<text x="217.58" y="73.25" textLength="20.06" lengthAdjust="spacingAndGlyphs">10N</text>
<text x="224.48" y="109.25" textLength="13.16" lengthAdjust="spacingAndGlyphs">5N</text>
<text x="224.48" y="146.25" textLength="13.16" lengthAdjust="spacingAndGlyphs">EQ</text>
<text x="224.48" y="182.25" textLength="13.16" lengthAdjust="spacingAndGlyphs">5S</text>
<text x="217.58" y="218.25" textLength="20.06" lengthAdjust="spacingAndGlyphs">10S</text>
<text x="217.58" y="255.25" textLength="20.06" lengthAdjust="spacingAndGlyphs">15S</text>
<text x="218.38" y="291.25" textLength="19.26" lengthAdjust="spacingAndGlyphs">20S</text>
<text x="218.38" y="327.25" textLength="19.26" lengthAdjust="spacingAndGlyphs">25S</text>
<text x="218.38" y="364.25" textLength="19.26" lengthAdjust="spacingAndGlyphs">30S</text>
<text x="218.38" y="400.25" textLength="19.26" lengthAdjust="spacingAndGlyphs">35S</text>
<text x="218.38" y="436.25" textLength="19.26" lengthAdjust="spacingAndGlyphs">40S</text>
<text x="218.38" y="473.25" textLength="19.26" lengthAdjust="spacingAndGlyphs">45S</text>
<text x="218.38" y="509.25" textLength="19.26" lengthAdjust="spacingAndGlyphs">50S</text>
<text x="218.38" y="545.25" textLength="19.26" lengthAdjust="spacingAndGlyphs">55S</text>
<text x="240.42" y="562.00" textLength="20.30" lengthAdjust="spacingAndGlyphs">80W</text>
<text x="271.42" y="562.00" textLength="20.30" lengthAdjust="spacingAndGlyphs">75W</text>
<text x="302.42" y="562.00" textLength="20.30" lengthAdjust="spacingAndGlyphs">70W</text>
<text x="333.42" y="562.00" textLength="20.30" lengthAdjust="spacingAndGlyphs">65W</text>
<text x="365.42" y="562.00" textLength="20.30" lengthAdjust="spacingAndGlyphs">60W</text>
<text x="396.42" y="562.00" textLength="20.30" lengthAdjust="spacingAndGlyphs">55W</text>
<text x="427.42" y="562.00" textLength="20.30" lengthAdjust="spacingAndGlyphs">50W</text>
<text x="459.21" y="562.00" textLength="19.50" lengthAdjust="spacingAndGlyphs">45W</text>
<text x="490.21" y="562.00" textLength="19.50" lengthAdjust="spacingAndGlyphs">40W</text>
<text x="521.41" y="562.00" textLength="20.30" lengthAdjust="spacingAndGlyphs">35W</text>
</g>
<g stroke="#000" stroke-width="1.2">
<polygon points="677.5,195.5 685,230 670.5,230" fill="#fff"/>
<rect x="670.5" y="230" width="14.5" height="35.5" fill="#ffd200"/>
<rect x="670.5" y="265.5" width="14.5" height="35.5" fill="#e1b98c"/>
<rect x="670.5" y="301" width="14.5" height="35.5" fill="#ff8c00"/>
<rect x="670.5" y="336.5" width="14.5" height="35.5" fill="#ff0000"/>
<polygon points="670.5,372 685,372 677.5,406.5" fill="#8b4513"/>
</g>
<g font-size="12.2">
<text x="689.6" y="235" textLength="15.9" lengthAdjust="spacingAndGlyphs">30</text>
<text x="689.6" y="270.5" textLength="15.9" lengthAdjust="spacingAndGlyphs">20</text>
<text x="689.6" y="306" textLength="15.9" lengthAdjust="spacingAndGlyphs">10</text>
<text x="689.6" y="341.5">5</text>
<text x="689.6" y="377">2</text>
</g>
<text x="4" y="598" font-size="10.5" textLength="83" lengthAdjust="spacingAndGlyphs">GrADS: COLA/IGES</text>
<text x="684" y="598" font-size="10.5" textLength="95" lengthAdjust="spacingAndGlyphs">2021-05-13-22:15</text>
</svg>
</body></html>
